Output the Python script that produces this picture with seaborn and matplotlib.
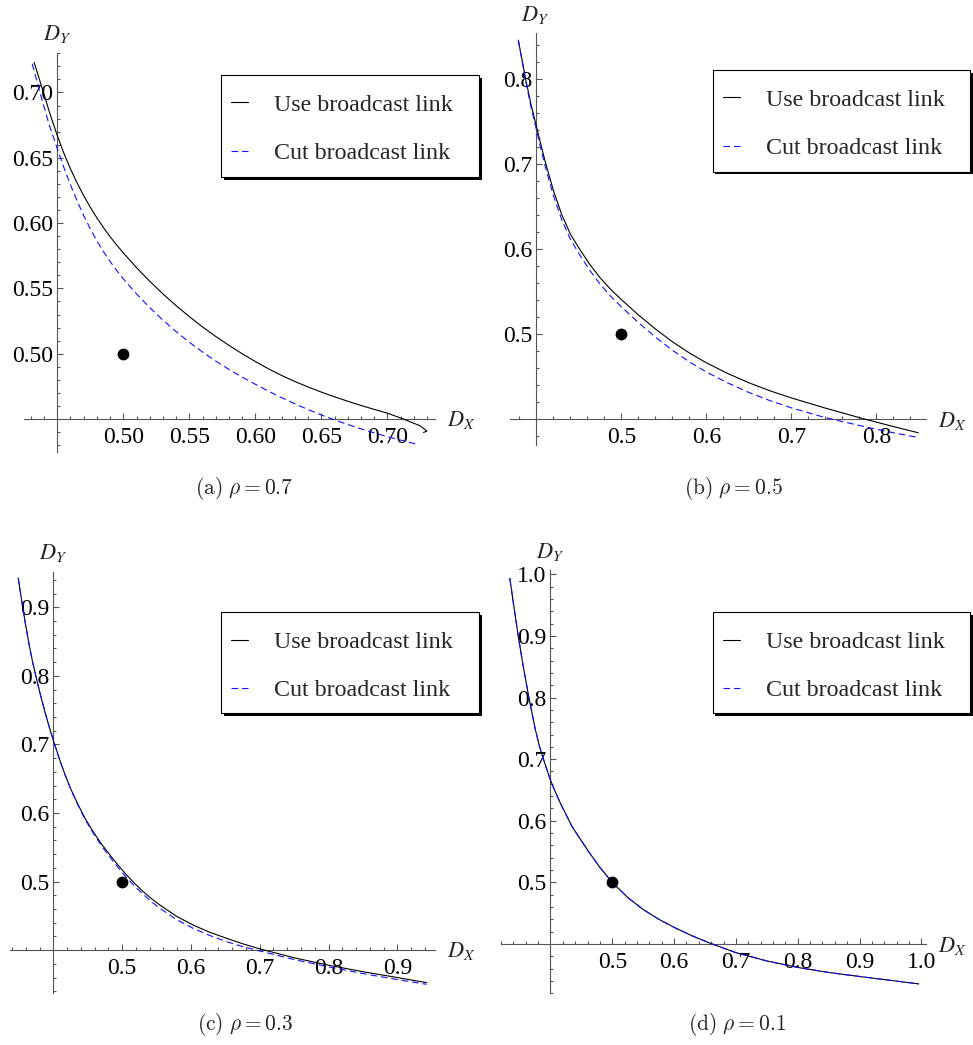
import numpy as np
import matplotlib
matplotlib.use("Agg")
import matplotlib.pyplot as plt
from matplotlib.patches import Rectangle
import seaborn as sns

sns.set_theme(style="white")
plt.rcParams["font.family"] = ["Liberation Serif", "DejaVu Serif"]
plt.rcParams["mathtext.fontset"] = "stix"

W, H = 973, 1045

SERIES_LABELS = ["Use broadcast link", "Cut broadcast link"]
PANEL_TAGS = ["a", "b", "c", "d"]
RHO = [0.7, 0.5, 0.3, 0.1]
POINT_X = [0.5]
POINT_Y = [0.5]

# ---- (a) rho = 0.7 ----
A_USE_X = [0.4325, 0.4394, 0.4445, 0.450, 0.455, 0.460, 0.465, 0.470, 0.475, 0.480,
           0.485, 0.490, 0.495, 0.500, 0.510, 0.520, 0.530, 0.540, 0.550, 0.560,
           0.570, 0.580, 0.590, 0.600, 0.610, 0.620, 0.630, 0.640, 0.650, 0.660,
           0.670, 0.680, 0.690, 0.700, 0.7121, 0.7248, 0.7298, 0.7273]
A_USE_Y = [0.723, 0.7005, 0.6835, 0.667, 0.6535, 0.6415, 0.6308, 0.621, 0.6121, 0.604,
           0.5965, 0.5896, 0.5832, 0.5772, 0.5659, 0.5555, 0.5458, 0.5368, 0.5284, 0.5205,
           0.5132, 0.5064, 0.500, 0.494, 0.4884, 0.4833, 0.4787, 0.4745, 0.4706, 0.467,
           0.4636, 0.4604, 0.4574, 0.4545, 0.4500, 0.4448, 0.4408, 0.4397]
A_CUT_X = [0.431, 0.4369, 0.4435, 0.450, 0.455, 0.460, 0.465, 0.470, 0.475, 0.480,
           0.485, 0.490, 0.495, 0.500, 0.510, 0.520, 0.530, 0.540, 0.550, 0.560,
           0.570, 0.580, 0.590, 0.600, 0.610, 0.620, 0.630, 0.640, 0.650, 0.660,
           0.670, 0.680, 0.690, 0.700, 0.721]
A_CUT_Y = [0.722, 0.700, 0.6765, 0.657, 0.6425, 0.6293, 0.6171, 0.6058, 0.5956, 0.5863,
           0.5781, 0.5706, 0.5637, 0.5573, 0.5458, 0.5353, 0.5257, 0.5169, 0.5088, 0.5013,
           0.4944, 0.488, 0.4821, 0.4766, 0.4713, 0.4663, 0.4616, 0.4572, 0.4531, 0.4493,
           0.4458, 0.4425, 0.4394, 0.4365, 0.431]

# ---- (b) rho = 0.5 ----
B_USE_X = [0.3788, 0.383, 0.3875, 0.3935, 0.400, 0.405, 0.4105, 0.420, 0.430, 0.440,
           0.451, 0.4627, 0.475, 0.4875, 0.500, 0.520, 0.540, 0.560, 0.580, 0.600,
           0.625, 0.650, 0.675, 0.700, 0.740, 0.7847, 0.820, 0.8494]
B_USE_Y = [0.846, 0.824, 0.800, 0.7715, 0.745, 0.7245, 0.703, 0.6695, 0.6405, 0.618,
           0.600, 0.5825, 0.5665, 0.5528, 0.5409, 0.5229, 0.5063, 0.4913, 0.4781, 0.4665,
           0.454, 0.443, 0.4335, 0.4252, 0.4132, 0.4007, 0.3915, 0.3842]
B_CUT_X = [0.3788, 0.383, 0.3875, 0.3935, 0.400, 0.405, 0.4105, 0.420, 0.430, 0.440,
           0.451, 0.4627, 0.475, 0.4875, 0.500, 0.520, 0.540, 0.560, 0.580, 0.600,
           0.625, 0.650, 0.675, 0.700, 0.740, 0.7847, 0.820, 0.8475]
B_CUT_Y = [0.846, 0.823, 0.798, 0.7685, 0.741, 0.7195, 0.6975, 0.6635, 0.6345, 0.612,
           0.5935, 0.5755, 0.559, 0.5448, 0.5324, 0.5139, 0.4968, 0.4813, 0.4676, 0.4557,
           0.4429, 0.4316, 0.4219, 0.4135, 0.402, 0.3917, 0.3842, 0.379]

# ---- (c) rho = 0.3 ----
C_USE_X = [0.349, 0.352, 0.3555, 0.360, 0.365, 0.370, 0.3749, 0.3815, 0.388, 0.394,
           0.400, 0.4085, 0.417, 0.425, 0.4336, 0.4456, 0.4578, 0.470, 0.4821, 0.4942,
           0.5063, 0.5184, 0.5305, 0.5426, 0.5547, 0.579, 0.6032, 0.6274, 0.6516, 0.676,
           0.7001, 0.750, 0.800, 0.850, 0.900, 0.9427]
C_USE_Y = [0.9426, 0.9225, 0.900, 0.8726, 0.8446, 0.8196, 0.7985, 0.7714, 0.7467, 0.7257,
           0.7059, 0.6797, 0.6559, 0.6359, 0.617, 0.593, 0.5729, 0.5547, 0.539, 0.5238,
           0.5098, 0.497, 0.4855, 0.4751, 0.4659, 0.4494, 0.4366, 0.426, 0.4173, 0.409,
           0.4018, 0.3888, 0.378, 0.3685, 0.360, 0.3525]
C_CUT_X = list(C_USE_X)
C_CUT_Y = [0.9426, 0.9225, 0.900, 0.8726, 0.8446, 0.8196, 0.7985, 0.7714, 0.7467, 0.7257,
           0.7059, 0.6797, 0.6557, 0.6354, 0.6161, 0.5915, 0.5709, 0.5522, 0.536, 0.5203,
           0.5058, 0.493, 0.4815, 0.4706, 0.4611, 0.4446, 0.4318, 0.4213, 0.4124, 0.4048,
           0.3988, 0.3862, 0.3756, 0.3658, 0.357, 0.3501]

# ---- (d) rho = 0.1 ----
D_USE_X = [0.3343, 0.341, 0.3478, 0.3553, 0.365, 0.3758, 0.3825, 0.3892, 0.400, 0.408,
           0.4162, 0.435, 0.4619, 0.480, 0.500, 0.525, 0.550, 0.575, 0.600, 0.630,
           0.659, 0.700, 0.750, 0.800, 0.850, 0.900, 0.9956]
D_USE_Y = [0.9935, 0.9465, 0.9003, 0.8545, 0.8006, 0.7468, 0.720, 0.6983, 0.666, 0.6465,
           0.6282, 0.5905, 0.5496, 0.5243, 0.500, 0.4755, 0.456, 0.4403, 0.427, 0.4129,
           0.401, 0.386, 0.3725, 0.362, 0.3538, 0.3473, 0.3353]
D_CUT_X = list(D_USE_X)
D_CUT_Y = list(D_USE_Y)

# tick values and labels
A_MAJOR = [0.50, 0.55, 0.60, 0.65, 0.70]
A_LABELS = ["0.50", "0.55", "0.60", "0.65", "0.70"]
B_MAJOR = [0.5, 0.6, 0.7, 0.8]
B_LABELS = ["0.5", "0.6", "0.7", "0.8"]
C_MAJOR = [0.5, 0.6, 0.7, 0.8, 0.9]
C_LABELS = ["0.5", "0.6", "0.7", "0.8", "0.9"]
D_MAJOR = [0.5, 0.6, 0.7, 0.8, 0.9, 1.0]
D_LABELS = ["0.5", "0.6", "0.7", "0.8", "0.9", "1.0"]

panels = [
    dict(use=(A_USE_X, A_USE_Y), cut=(A_CUT_X, A_CUT_Y), box=(24, 53.3, 435, 451.7),
         xlim=(0.4248, 0.736), ylim=(0.425, 0.727), origin=0.45,
         major=A_MAJOR, labels=A_LABELS, minor=np.arange(0.43, 0.735, 0.01),
         dy=(57, 34), dx=(447, 420), legend=(221, 75, 479, 177), caption=(244, 489)),
    dict(use=(B_USE_X, B_USE_Y), cut=(B_CUT_X, B_CUT_Y), box=(510.3, 33.3, 926.3, 445),
         xlim=(0.3694, 0.8588), ylim=(0.3698, 0.854), origin=0.4,
         major=B_MAJOR, labels=B_LABELS, minor=np.arange(0.38, 0.855, 0.02),
         dy=(535, 15), dx=(938, 421), legend=(712.7, 70, 970, 171.7), caption=(733, 489)),
    dict(use=(C_USE_X, C_USE_Y), cut=(C_CUT_X, C_CUT_Y), box=(10, 571.7, 435, 993.3),
         xlim=(0.337, 0.9548), ylim=(0.337, 0.952), origin=0.4,
         major=C_MAJOR, labels=C_LABELS, minor=np.arange(0.34, 0.955, 0.02),
         dy=(53, 553), dx=(447, 951), legend=(221, 612.3, 479, 713.3), caption=(245, 1024)),
    dict(use=(D_USE_X, D_USE_Y), cut=(D_CUT_X, D_CUT_Y), box=(501, 570, 926.3, 993.3),
         xlim=(0.3208, 1.008), ylim=(0.3218, 1.007), origin=0.4,
         major=D_MAJOR, labels=D_LABELS, minor=np.arange(0.32, 1.005, 0.02),
         dy=(550, 552), dx=(938, 946), legend=(712.7, 612.3, 970, 713.3), caption=(737, 1024)),
]

AXIS_COLOR = "#555555"
FS = 17

fig = plt.figure(figsize=(W / 100, H / 100), dpi=100)


def fx(px):
    return px / W


def fy(py):
    return 1 - py / H


for tag, rho, p in zip(PANEL_TAGS, RHO, panels):
    l, t, r, b = p["box"]
    ax = fig.add_axes([fx(l), fy(b), (r - l) / W, (b - t) / H])
    ax.set_facecolor("none")

    sns.lineplot(x=p["use"][0], y=p["use"][1], sort=False, estimator=None, ax=ax,
                 color="black", linewidth=0.8, label=SERIES_LABELS[0], legend=False,
                 clip_on=False, zorder=3)
    sns.lineplot(x=p["cut"][0], y=p["cut"][1], sort=False, estimator=None, ax=ax,
                 color="#1010ff", linewidth=0.8, linestyle=(0, (6, 3.5)),
                 label=SERIES_LABELS[1], legend=False, clip_on=False, zorder=4)
    sns.scatterplot(x=POINT_X, y=POINT_Y, ax=ax, s=72, color="black",
                    edgecolor="black", linewidth=0, zorder=5, legend=False)

    ax.set_xlim(*p["xlim"])
    ax.set_ylim(*p["ylim"])
    o = p["origin"]
    for side in ("top", "right"):
        ax.spines[side].set_visible(False)
    for side in ("left", "bottom"):
        ax.spines[side].set_position(("data", o))
        ax.spines[side].set_color(AXIS_COLOR)
        ax.spines[side].set_linewidth(0.8)

    minor = [m for m in p["minor"]
             if all(abs(m - v) > 1e-6 for v in p["major"]) and abs(m - o) > 1e-6]
    for axis in (ax.xaxis, ax.yaxis):
        axis.set_ticks(p["major"])
        axis.set_ticklabels(p["labels"])
        axis.set_ticks(minor, minor=True)
    ax.tick_params(which="both", bottom=True, left=True, top=False, right=False)
    ax.tick_params(which="major", direction="in", length=4.5, width=0.8,
                   color=AXIS_COLOR, labelsize=FS, labelcolor="black")
    ax.tick_params(which="minor", direction="in", length=2.4, width=0.8,
                   color=AXIS_COLOR)
    ax.tick_params(axis="x", which="major", pad=5.5)
    ax.tick_params(axis="y", which="major", pad=3)
    ax.set_xlabel("")
    ax.set_ylabel("")

    # legend box with a solid drop shadow
    gl, gt, gr, gb = p["legend"]
    sh = 2.6
    ax.add_patch(Rectangle((fx(gl + sh), fy(gb + sh)), (gr - gl) / W, (gb - gt) / H,
                           transform=fig.transFigure, facecolor="black",
                           edgecolor="black", linewidth=0, clip_on=False, zorder=6))
    ax.add_patch(Rectangle((fx(gl), fy(gb)), (gr - gl) / W, (gb - gt) / H,
                           transform=fig.transFigure, facecolor="white",
                           edgecolor="black", linewidth=0.8, clip_on=False, zorder=6.1))
    handles, labels = ax.get_legend_handles_labels()
    leg = ax.legend(handles, labels, loc="upper left",
                    bbox_to_anchor=(fx(gl + 10), fy(gt + 19)),
                    bbox_transform=fig.transFigure, borderaxespad=0, borderpad=0,
                    fontsize=17.3, frameon=False, handlelength=0.72,
                    handletextpad=1.08, labelspacing=1.1)
    leg.set_zorder(7)

    fig.text(fx(p["dy"][0]), fy(p["dy"][1]), r"$D_Y$", fontsize=16,
             ha="center", va="center")
    fig.text(fx(p["dx"][0]), fy(p["dx"][1]), r"$D_X$", fontsize=16,
             ha="left", va="center")
    fig.text(fx(p["caption"][0]), fy(p["caption"][1]),
             r"$\mathrm{(" + tag + r")}\ \rho = " + f"{rho}" + r"$",
             fontsize=15.5, ha="center", va="center", math_fontfamily="cm")

fig.savefig("out.png", dpi=100)
